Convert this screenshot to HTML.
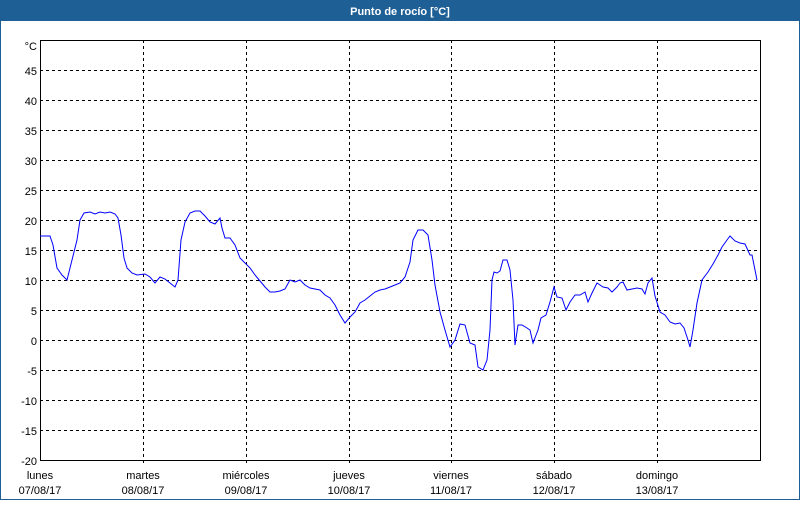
<!DOCTYPE html>
<html><head><meta charset="utf-8"><style>
body{margin:0;width:800px;height:500px;overflow:hidden;background:#fff;font-family:"Liberation Sans",sans-serif}
</style></head><body>
<svg width="800" height="500" xmlns="http://www.w3.org/2000/svg" font-family="Liberation Sans, sans-serif" font-size="11">
<rect x="0.5" y="0.5" width="799" height="499" fill="#fff" stroke="#1e5f96"/>
<rect x="0" y="0" width="800" height="21" fill="#1e5f96"/>
<text x="400" y="15" fill="#fff" font-weight="bold" text-anchor="middle">Punto de rocío [°C]</text>
<g stroke="#000" stroke-dasharray="3,3" stroke-width="1">
<line x1="40" y1="70.5" x2="760" y2="70.5"/><line x1="40" y1="100.5" x2="760" y2="100.5"/>
<line x1="40" y1="130.5" x2="760" y2="130.5"/><line x1="40" y1="160.5" x2="760" y2="160.5"/>
<line x1="40" y1="190.5" x2="760" y2="190.5"/><line x1="40" y1="220.5" x2="760" y2="220.5"/>
<line x1="40" y1="250.5" x2="760" y2="250.5"/><line x1="40" y1="280.5" x2="760" y2="280.5"/>
<line x1="40" y1="310.5" x2="760" y2="310.5"/><line x1="40" y1="340.5" x2="760" y2="340.5"/>
<line x1="40" y1="370.5" x2="760" y2="370.5"/><line x1="40" y1="400.5" x2="760" y2="400.5"/>
<line x1="40" y1="430.5" x2="760" y2="430.5"/>
<line x1="143.5" y1="40" x2="143.5" y2="466"/><line x1="246.5" y1="40" x2="246.5" y2="466"/>
<line x1="349.5" y1="40" x2="349.5" y2="466"/><line x1="451.5" y1="40" x2="451.5" y2="466"/>
<line x1="554.5" y1="40" x2="554.5" y2="466"/><line x1="657.5" y1="40" x2="657.5" y2="466"/>
</g>
<rect x="40.5" y="40.5" width="720" height="420" fill="none" stroke="#000"/>
<g text-anchor="end" fill="#000">
<text x="37" y="50">°C</text><text x="37" y="75">45</text><text x="37" y="105">40</text><text x="37" y="135">35</text>
<text x="37" y="165">30</text><text x="37" y="195">25</text><text x="37" y="225">20</text><text x="37" y="255">15</text>
<text x="37" y="285">10</text><text x="37" y="315">5</text><text x="37" y="345">0</text><text x="37" y="375">-5</text>
<text x="37" y="405">-10</text><text x="37" y="435">-15</text><text x="37" y="465">-20</text>
</g>
<g text-anchor="middle" fill="#000">
<text x="40" y="479">lunes</text><text x="40" y="494">07/08/17</text>
<text x="143" y="479">martes</text><text x="143" y="494">08/08/17</text>
<text x="246" y="479">miércoles</text><text x="246" y="494">09/08/17</text>
<text x="349" y="479">jueves</text><text x="349" y="494">10/08/17</text>
<text x="451" y="479">viernes</text><text x="451" y="494">11/08/17</text>
<text x="554" y="479">sábado</text><text x="554" y="494">12/08/17</text>
<text x="657" y="479">domingo</text><text x="657" y="494">13/08/17</text>
</g>
<polyline fill="none" stroke="#0000ff" stroke-width="1" points="40,236 50,236 53,245 57,268 62,275 67,280 72,260 77,240 80,220 84,213 90,212 95,214 100,212 105,213 110,212 115,214 118,218 121,235 124,258 127,268 132,273 137,275 145,274 150,277 155,283 160,277 165,279 170,283 175,287 178,280 181,240 185,222 190,213 195,211 200,211 205,216 210,222 215,224 220,218 222,228 225,238 230,238 235,245 240,258 245,263 250,268 255,275 260,281 265,287 270,292 275,292 280,291 285,289 290,280 295,282 300,280 305,285 310,288 320,290 325,295 330,298 335,305 340,315 345,323 350,317 355,312 360,303 365,300 370,296 375,292 380,290 385,289 390,287 395,285 400,283 405,277 410,262 413,240 418,230 423,230 428,235 432,260 435,285 440,312 445,330 450,347 455,340 460,324 465,325 470,343 475,345 478,367 483,370 487,360 490,330 492,280 494,272 497,273 500,271 503,260 507,260 510,270 513,300 515,345 518,325 522,325 527,328 530,330 533,343 538,330 541,318 546,315 550,302 554,287 557,297 562,298 566,310 570,302 575,295 580,295 585,292 588,302 592,293 597,283 603,287 608,288 612,292 617,287 620,283 623,282 627,290 632,289 637,288 642,289 645,294 648,283 652,278 655,296 660,312 665,315 670,322 675,324 680,323 684,328 688,340 690,347 693,330 697,303 702,280 708,272 713,264 718,255 722,247 727,240 730,236 735,241 740,243 745,244 750,255 752,255 755,270 757,280"/>
</svg>
</body></html>
